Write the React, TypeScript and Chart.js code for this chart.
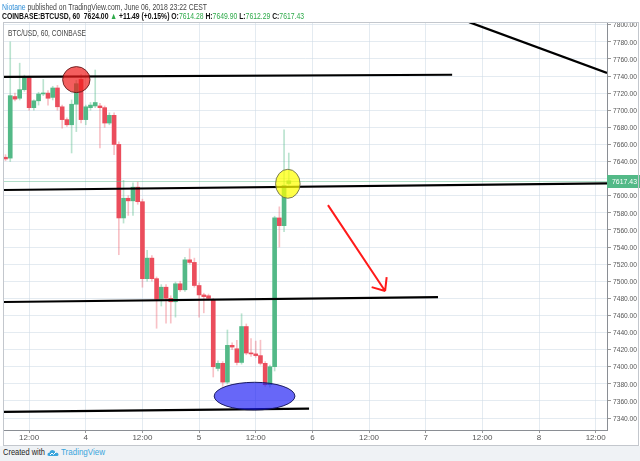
import React, { useEffect, useLayoutEffect, useRef } from "react";
import { Chart, registerables } from "chart.js";

Chart.register(...registerables);

// ---- Hourly candles (index 0 = first visible hour) ----
const opens = [
  7645, 7644, 7716, 7714, 7724, 7738, 7703, 7711, 7719, 7720,
  7715, 7726, 7704, 7689, 7683, 7707, 7736, 7689, 7703, 7705,
  7705, 7703, 7685, 7694, 7660, 7574, 7597, 7594, 7610, 7593,
  7503, 7527, 7503, 7479, 7493, 7480, 7476, 7497, 7490, 7525,
  7522, 7495, 7484, 7483, 7478, 7398, 7404, 7382, 7425, 7421,
  7405, 7447, 7416, 7415, 7413, 7404, 7379, 7400, 7574, 7565,
  7614.28,
];
const highs = [
  7648, 7780, 7720, 7755, 7741, 7740, 7712, 7721, 7736, 7723,
  7728, 7729, 7706, 7691, 7712, 7735, 7742, 7706, 7709, 7747,
  7708, 7705, 7697, 7697, 7663, 7618, 7600, 7615, 7616, 7596,
  7536, 7530, 7505, 7496, 7496, 7483, 7499, 7500, 7528, 7538,
  7527, 7498, 7486, 7485, 7480, 7407, 7406, 7443, 7428, 7431,
  7462, 7450, 7433, 7430, 7431, 7406, 7402, 7576, 7587, 7677,
  7649.9,
];
const lows = [
  7641, 7640, 7711, 7712, 7722, 7700, 7700, 7706, 7717, 7706,
  7712, 7700, 7679, 7681, 7650, 7675, 7685, 7683, 7700, 7703,
  7656, 7680, 7683, 7648, 7531, 7568, 7577, 7577, 7590, 7493,
  7500, 7500, 7445, 7471, 7451, 7451, 7458, 7488, 7488, 7520,
  7493, 7458, 7463, 7478, 7388, 7395, 7377, 7380, 7420, 7402,
  7403, 7414, 7412, 7411, 7402, 7377, 7376, 7395, 7540, 7558,
  7612.29,
];
const closes = [
  7643, 7717, 7713, 7724, 7738, 7703, 7711, 7719, 7720, 7714,
  7726, 7704, 7689, 7683, 7707, 7731, 7689, 7704, 7706, 7709,
  7703, 7685, 7694, 7660, 7574, 7597, 7594, 7610, 7593, 7503,
  7527, 7503, 7479, 7493, 7480, 7476, 7497, 7490, 7525, 7522,
  7495, 7484, 7482, 7480, 7400, 7404, 7382, 7425, 7423, 7405,
  7447, 7416, 7415, 7413, 7404, 7379, 7400, 7574, 7565, 7612,
  7617.43,
];
const lastPrice = 7617.43;

// ---- Axes ----
const priceTicks = [
  7340, 7360, 7380, 7400, 7420, 7440, 7460, 7480, 7500, 7520, 7540, 7560,
  7580, 7600, 7620, 7640, 7660, 7680, 7700, 7720, 7740, 7760, 7780, 7800,
];
const timeTickPositions = [5, 17, 29, 41, 53, 65, 77, 89, 101, 113, 125];
const timeTickLabels = ["12:00", "4", "12:00", "5", "12:00", "6", "12:00", "7", "12:00", "8", "12:00"];
const xRange = [-0.32, 127.4];
const priceRange = [7326, 7802];

// ---- Drawings, in data coordinates [x1, price1, x2, price2] ----
const trendLines = [
  [-0.32, 7739, 94.6, 7741.5],
  [-0.32, 7606.7, 127.4, 7614.5],
  [-0.32, 7475.7, 91.6, 7481.5],
  [-0.32, 7347.2, 64.3, 7350.9],
  [98.2, 7803, 127.4, 7743.5],
];
const arrowLine = [68.3, 7589, 80.4, 7488.5];
const ellipseBoxes = [
  [12.1, 7751, 17.9, 7720.5],
  [57.2, 7630.9, 62.4, 7597],
  [44.2, 7381.8, 61.3, 7349.4],
];
const ellipseStyles = [
  { fill: "rgba(240,25,25,0.7)", stroke: "rgba(90,20,20,0.85)" },
  { fill: "rgba(255,255,0,0.72)", stroke: "rgba(110,110,80,0.9)" },
  { fill: "rgba(25,25,245,0.66)", stroke: "rgba(20,20,90,0.95)" },
];

const UP = "#53b987";
const DOWN = "#eb4d5c";
const UP_WICK = "rgba(83,185,135,0.4)";
const DOWN_WICK = "rgba(235,77,92,0.35)";
const GRID = "rgba(205,218,230,0.55)";
const FONT = "'Liberation Sans', Arial, sans-serif";

const drawingsPlugin = {
  id: "drawings",
  afterDatasetsDraw(chart: any) {
    const { ctx, chartArea: a, scales } = chart;
    const x = scales.x;
    const y = scales.y;
    const px = (v: number) => x.getPixelForValue(v);
    const py = (v: number) => y.getPixelForValue(v);

    ctx.save();
    ctx.beginPath();
    ctx.rect(a.left, a.top, a.right - a.left, a.bottom - a.top);
    ctx.clip();

    // last price line
    const ly = Math.round(py(lastPrice)) + 0.5;
    ctx.strokeStyle = "rgba(83,185,135,0.45)";
    ctx.lineWidth = 1;
    ctx.beginPath();
    ctx.moveTo(a.left, ly);
    ctx.lineTo(a.right, ly);
    ctx.stroke();

    // trend lines
    ctx.strokeStyle = "#000";
    ctx.lineWidth = 2.2;
    ctx.lineCap = "butt";
    trendLines.forEach(([x1, p1, x2, p2]) => {
      ctx.beginPath();
      ctx.moveTo(px(x1), py(p1));
      ctx.lineTo(px(x2), py(p2));
      ctx.stroke();
    });

    // red arrow
    const [ax1, ap1, ax2, ap2] = arrowLine;
    const sx = px(ax1), sy = py(ap1), tx = px(ax2), ty = py(ap2);
    ctx.strokeStyle = "#ff1a1a";
    ctx.lineWidth = 2;
    ctx.beginPath();
    ctx.moveTo(sx, sy);
    ctx.lineTo(tx, ty);
    const ang = Math.atan2(ty - sy, tx - sx) + Math.PI;
    const headLen = 14;
    const spread = (40 * Math.PI) / 180;
    ctx.moveTo(tx, ty);
    ctx.lineTo(tx + headLen * Math.cos(ang - spread), ty + headLen * Math.sin(ang - spread));
    ctx.moveTo(tx, ty);
    ctx.lineTo(tx + headLen * Math.cos(ang + spread), ty + headLen * Math.sin(ang + spread));
    ctx.stroke();

    // ellipses
    ellipseBoxes.forEach(([x1, p1, x2, p2], i) => {
      const l = px(x1), r = px(x2), t = py(p1), b = py(p2);
      ctx.beginPath();
      ctx.ellipse((l + r) / 2, (t + b) / 2, Math.abs(r - l) / 2, Math.abs(b - t) / 2, 0, 0, Math.PI * 2);
      ctx.fillStyle = ellipseStyles[i].fill;
      ctx.fill();
      ctx.strokeStyle = ellipseStyles[i].stroke;
      ctx.lineWidth = 1;
      ctx.stroke();
    });
    ctx.restore();

    // price-axis labels (narrow, fitted into the axis strip)
    ctx.save();
    ctx.font = `8px ${FONT}`;
    ctx.textBaseline = "middle";
    ctx.textAlign = "left";
    ctx.fillStyle = "#555";
    y.ticks.forEach((t: any) => {
      const yy = py(t.value);
      ctx.fillText(Number(t.value).toFixed(2), a.right + 6, yy + 0.5, 24);
    });

    // last price label on the axis
    const cy = Math.round(py(lastPrice));
    ctx.fillStyle = UP;
    ctx.fillRect(a.right, cy - 6, 33, 13);
    ctx.fillStyle = "#fff";
    ctx.fillText(lastPrice.toFixed(2), a.right + 5, cy + 0.5, 25);
    ctx.restore();
  },
};

function FitLine({ width, style, children }: any) {
  const ref = useRef<HTMLDivElement>(null);
  useLayoutEffect(() => {
    const el = ref.current;
    if (!el) return;
    el.style.transform = "none";
    const w = el.getBoundingClientRect().width;
    if (w > 0) el.style.transform = `scaleX(${width / w})`;
  });
  return (
    <div
      ref={ref}
      style={{
        position: "absolute",
        whiteSpace: "nowrap",
        transformOrigin: "left center",
        fontFamily: FONT,
        ...style,
      }}
    >
      {children}
    </div>
  );
}

export default function App() {
  const canvasRef = useRef<HTMLCanvasElement>(null);

  useEffect(() => {
    if (!canvasRef.current) return;
    const bodyColors = opens.map((o, i) => (closes[i] >= o ? UP : DOWN));
    const wickColors = opens.map((o, i) => (closes[i] >= o ? UP_WICK : DOWN_WICK));
    const chart = new Chart(canvasRef.current, {
      type: "bar",
      data: {
        datasets: [
          {
            label: "body",
            data: opens.map((o, i) => ({ x: i, y: [o, closes[i]] })) as any,
            backgroundColor: bodyColors,
            barThickness: 4,
            minBarLength: 1,
            grouped: false,
            order: 0,
          } as any,
          {
            label: "wick",
            data: lows.map((l, i) => ({ x: i, y: [l, highs[i]] })) as any,
            backgroundColor: wickColors,
            barThickness: 1,
            grouped: false,
            order: 1,
          } as any,
        ],
      },
      options: {
        responsive: false,
        animation: false,
        events: [],
        layout: { padding: { left: 4, top: 23, right: 0, bottom: 15 } },
        plugins: { legend: { display: false }, tooltip: { enabled: false } },
        scales: {
          x: {
            type: "linear",
            min: xRange[0],
            max: xRange[1],
            offset: false,
            afterBuildTicks: (s: any) => {
              s.ticks = timeTickPositions.map((v) => ({ value: v }));
            },
            afterFit: (s: any) => {
              s.height = 16;
            },
            ticks: {
              autoSkip: false,
              maxRotation: 0,
              padding: 0,
              color: "#555",
              font: { size: 8, family: FONT },
              callback: (v: any) => {
                const k = timeTickPositions.indexOf(Number(v));
                return k >= 0 ? timeTickLabels[k] : "";
              },
            },
            grid: { color: GRID, offset: false, tickLength: 3, tickColor: "#999" },
            border: { color: "#8a8e94" },
          } as any,
          y: {
            type: "linear",
            position: "right",
            min: priceRange[0],
            max: priceRange[1],
            afterBuildTicks: (s: any) => {
              s.ticks = priceTicks.map((v) => ({ value: v }));
            },
            afterFit: (s: any) => {
              s.width = 33;
            },
            ticks: {
              display: false,
            },
            grid: { color: GRID, tickLength: 4, tickColor: "#999" },
            border: { color: "#8a8e94" },
          } as any,
        },
      },
      plugins: [drawingsPlugin],
    });
    return () => chart.destroy();
  }, []);

  const green = "#2eaa4a";
  return (
    <div style={{ position: "absolute", left: 0, top: 0, width: 640, height: 461, background: "#fff", overflow: "hidden" }}>
      <canvas ref={canvasRef} width={640} height={461} style={{ position: "absolute", left: 0, top: 0 }} />
      {/* frame */}
      <div style={{ position: "absolute", left: 3, top: 22, width: 636, height: 424, border: "1px solid #c3c7cd", boxSizing: "border-box", pointerEvents: "none" }} />
      {/* header */}
      <FitLine width={205} style={{ left: 2, top: 2, fontSize: 9, lineHeight: "11px", color: "#444" }}>
        <span style={{ color: "#2f8fd8" }}>Niotane</span> published on TradingView.com, June 06, 2018 23:22 CEST
      </FitLine>
      <FitLine width={302} style={{ left: 2, top: 11, fontSize: 9, lineHeight: "11px", color: "#111", fontWeight: 700 }}>
        COINBASE:BTCUSD, 60&nbsp; 7624.00 <span style={{ color: green }}>▲</span> +11.49 (+0.15%) O:
        <span style={{ color: green, fontWeight: 400 }}>7614.28</span> H:
        <span style={{ color: green, fontWeight: 400 }}>7649.90</span> L:
        <span style={{ color: green, fontWeight: 400 }}>7612.29</span> C:
        <span style={{ color: green, fontWeight: 400 }}>7617.43</span>
      </FitLine>
      <FitLine width={78} style={{ left: 8, top: 28, fontSize: 9, lineHeight: "11px", color: "#444" }}>
        BTC/USD, 60, COINBASE
      </FitLine>
      {/* footer */}
      <div style={{ position: "absolute", left: 0, top: 446, width: 640, height: 15, background: "#eff2f5" }} />
      <FitLine width={42} style={{ left: 3, top: 447, fontSize: 9, lineHeight: "11px", color: "#222" }}>
        Created with
      </FitLine>
      <svg width={12} height={9} viewBox="0 0 12 9" style={{ position: "absolute", left: 47, top: 448 }}>
        <path d="M2 8 Q0 8 0.5 6 Q1 4.5 2.5 4.8 Q3 2 5.5 2 Q8 2 8.5 4.5 Q11.5 4.5 11.5 6.5 Q11.5 8 10 8 Z" fill="#3aa5dc" />
        <path d="M3 7 L5 5 L6.5 6.5 L9 4" stroke="#fff" strokeWidth={1} fill="none" />
      </svg>
      <FitLine width={44} style={{ left: 61, top: 447, fontSize: 9, lineHeight: "11px", color: "#3aa5dc" }}>
        TradingView
      </FitLine>
    </div>
  );
}
